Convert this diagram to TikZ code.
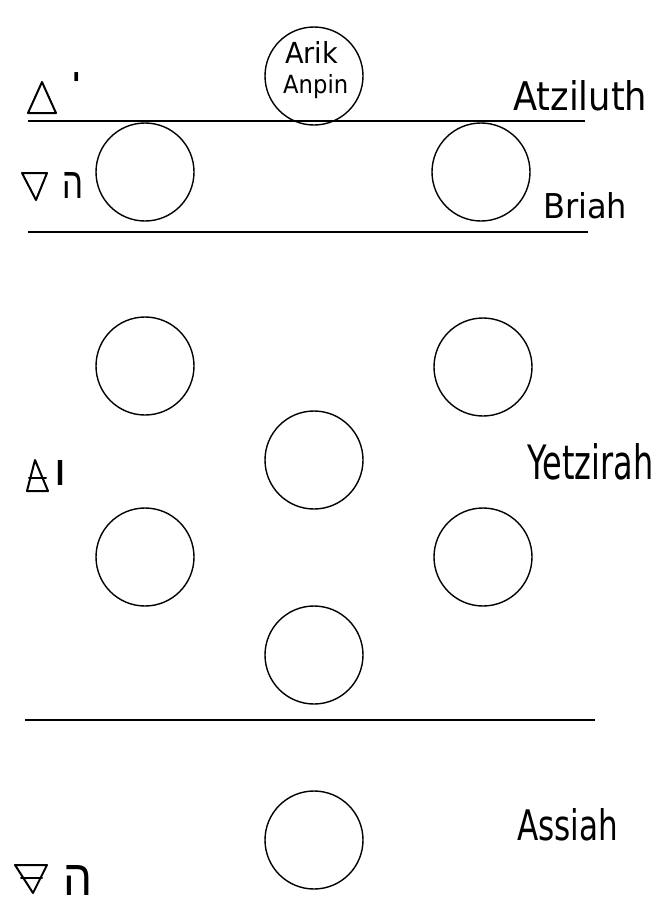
\documentclass[tikz,border=0pt]{standalone}
\usepackage{fontspec}
\setmainfont{DejaVu Sans}
\newfontfamily\hebfont[Script=Hebrew]{Liberation Sans}
\TeXXeTstate=1
\begin{document}
\begin{tikzpicture}[x=1pt,y=-1pt,
  sefira/.style={circle,draw,line width=1.4pt,minimum size=98pt,inner sep=0pt},
  world/.style={anchor=base west,inner sep=0pt},
  rule/.style={line width=1.1pt},
  sym/.style={line width=2pt,line join=round,line cap=round}]
\useasboundingbox (0,0) rectangle (670,908);
% circles
\node[sefira] (arik) at (314,76) {};
\node[sefira] (b1) at (145,172) {};
\node[sefira] (b2) at (481,172) {};
\node[sefira] (y1) at (145,366) {};
\node[sefira] (y2) at (483,367) {};
\node[sefira] (y3) at (314,460) {};
\node[sefira] (y4) at (145,557) {};
\node[sefira] (y5) at (483,557) {};
\node[sefira] (y6) at (314,655) {};
\node[sefira] (a1) at (314,840) {};
% Arik Anpin text
\node[world] (t1) at (285,63) {\resizebox{53pt}{22pt}{Arik}};
\node[world] (t2) at (283,93) {\resizebox{65pt}{19pt}{Anpin}};
% world lines
\coordinate (l1a) at (28,121); \coordinate (l1b) at (585,121);
\coordinate (l2a) at (28,232); \coordinate (l2b) at (588,232);
\coordinate (l3a) at (25,720); \coordinate (l3b) at (595,720);
\draw[rule] (l1a) -- (l1b);
\draw[rule] (l2a) -- (l2b);
\draw[rule] (l3a) -- (l3b);
% world names
\node[world] (atz) at (513,110) {\resizebox{134pt}{30pt}{Atziluth}};
\node[world] (bri) at (543,218) {\resizebox{84pt}{26pt}{Briah}};
\node[world] (yet) at (527,479) {\resizebox{126pt}{36pt}{Yetzirah}};
\node[world] (ass) at (517,840) {\resizebox{101pt}{32pt}{Assiah}};
% element symbols
\draw[sym] (28,113) -- (42,82) -- (56,113) -- cycle;
\draw[sym] (22,173) -- (47,173) -- (36,200) -- cycle;
\draw[sym] (27,491) -- (35,460) -- (48,491) -- cycle;
\draw[sym] (29,478) -- (46,478);
\draw[sym] (15,865) -- (47,865) -- (33,893) -- cycle;
\draw[sym] (21,878) -- (42,878);
% Hebrew letters
\node[world] (h1) at (72,89) {\fontsize{28pt}{30pt}\hebfont\bfseries\beginR י\endR};
\node[world] (h2) at (62,198) {\resizebox{21pt}{26pt}{\hebfont\beginR ה\endR}};
\node[world] (h3) at (55,485) {\resizebox{10pt}{25pt}{\hebfont\bfseries\beginR ו\endR}};
\node[world] (h4) at (63,895) {\resizebox{29pt}{30pt}{\hebfont\beginR ה\endR}};
\end{tikzpicture}
\end{document}
